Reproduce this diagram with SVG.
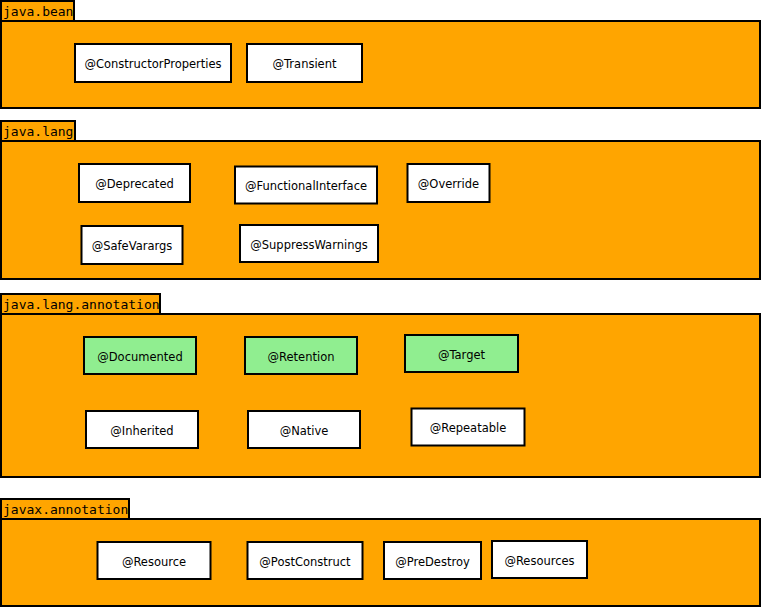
<svg xmlns="http://www.w3.org/2000/svg" width="761" height="607" viewBox="0 0 761 607">
<style>
.pkg{fill:#FFA500;stroke:#000;stroke-width:2}
.tabt{font-family:"DejaVu Sans Mono",monospace;font-size:13px;fill:#000}
.n{fill:#fff;stroke:#000;stroke-width:2}
.g{fill:#90EE90;stroke:#000;stroke-width:2}
.t{font-family:"DejaVu Sans",sans-serif;font-size:11.5px;fill:#000;text-anchor:middle;dominant-baseline:central}
</style>
<rect width="761" height="607" fill="#fff"/>
<g id="pkg-java-bean">
<rect class="pkg" x="1" y="21" width="759" height="87"/>
<rect class="pkg" x="1" y="1" width="73" height="20"/>
<text class="tabt" x="3" y="16">java.bean</text>
</g>
<g id="pkg-java-lang">
<rect class="pkg" x="1" y="141" width="759" height="138"/>
<rect class="pkg" x="1" y="121" width="74" height="20"/>
<text class="tabt" x="3" y="136">java.lang</text>
</g>
<g id="pkg-java-lang-annotation">
<rect class="pkg" x="1" y="314" width="759" height="163"/>
<rect class="pkg" x="1" y="294" width="159" height="20"/>
<text class="tabt" x="3" y="309">java.lang.annotation</text>
</g>
<g id="pkg-javax-annotation">
<rect class="pkg" x="1" y="519" width="759" height="87"/>
<rect class="pkg" x="1" y="499" width="128" height="20"/>
<text class="tabt" x="3" y="514">javax.annotation</text>
</g>
<g id="n-ConstructorProperties"><rect class="n" x="75" y="44" width="156" height="38"/><text class="t" x="153" y="64">@ConstructorProperties</text></g>
<g id="n-Transient"><rect class="n" x="247" y="44" width="115" height="38"/><text class="t" x="304.5" y="64">@Transient</text></g>
<g id="n-Deprecated"><rect class="n" x="79" y="164" width="111" height="38"/><text class="t" x="134.5" y="184">@Deprecated</text></g>
<g id="n-FunctionalInterface"><rect class="n" x="235" y="166.5" width="142" height="37"/><text class="t" x="306" y="186">@FunctionalInterface</text></g>
<g id="n-Override"><rect class="n" x="407.5" y="164" width="82" height="38"/><text class="t" x="448.5" y="184">@Override</text></g>
<g id="n-SafeVarargs"><rect class="n" x="81.5" y="226" width="101" height="38"/><text class="t" x="132" y="246">@SafeVarargs</text></g>
<g id="n-SuppressWarnings"><rect class="n" x="240" y="225" width="138" height="37"/><text class="t" x="309" y="244.5">@SuppressWarnings</text></g>
<g id="n-Documented"><rect class="g" x="84" y="337" width="112" height="37"/><text class="t" x="140" y="356.5">@Documented</text></g>
<g id="n-Retention"><rect class="g" x="245" y="337" width="112" height="37"/><text class="t" x="301" y="356.5">@Retention</text></g>
<g id="n-Target"><rect class="g" x="405" y="335" width="113" height="37"/><text class="t" x="461.5" y="354.5">@Target</text></g>
<g id="n-Inherited"><rect class="n" x="86" y="411" width="112" height="37"/><text class="t" x="142" y="430.5">@Inherited</text></g>
<g id="n-Native"><rect class="n" x="248" y="411" width="112" height="37"/><text class="t" x="304" y="430.5">@Native</text></g>
<g id="n-Repeatable"><rect class="n" x="411.5" y="408.5" width="113" height="37"/><text class="t" x="468" y="428">@Repeatable</text></g>
<g id="n-Resource"><rect class="n" x="97.5" y="542" width="113" height="37"/><text class="t" x="154" y="561.5">@Resource</text></g>
<g id="n-PostConstruct"><rect class="n" x="247.5" y="542" width="115" height="37"/><text class="t" x="305" y="561.5">@PostConstruct</text></g>
<g id="n-PreDestroy"><rect class="n" x="384" y="542" width="97" height="37"/><text class="t" x="432.5" y="561.5">@PreDestroy</text></g>
<g id="n-Resources"><rect class="n" x="492" y="541" width="95" height="37"/><text class="t" x="539.5" y="560.5">@Resources</text></g>
<g id="connectors"/>
</svg>
